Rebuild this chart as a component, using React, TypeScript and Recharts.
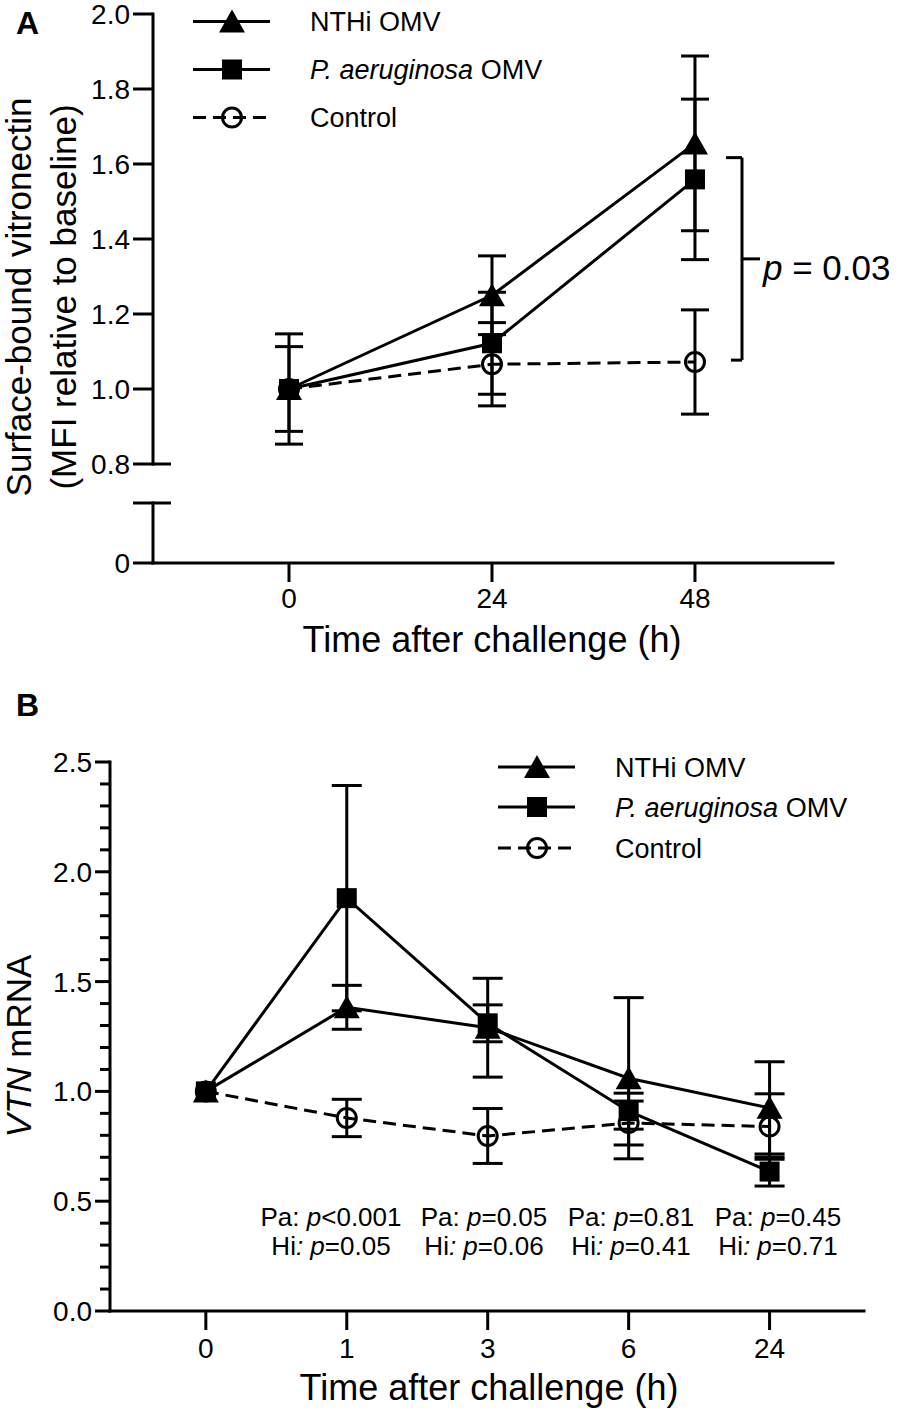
import React from 'react'
import { LineChart, Line, XAxis, YAxis, ErrorBar, ReferenceLine, Legend } from 'recharts'

const FONT = '"Liberation Sans", Arial, Helvetica, sans-serif'

// Panel A: surface-bound vitronectin (MFI relative to baseline)
const hoursA = [0, 24, 48]
const nthiA = [1.0, 1.25, 1.655]
const nthiErrA = [0.113, 0.105, 0.233]
const paA = [1.0, 1.122, 1.559]
const paErrA = [0.147, 0.136, 0.214]
const ctrlA = [1.0, 1.066, 1.072]
const ctrlErrA = [0, 0.111, 0.139]
const yTicksA = [0.8, 1.0, 1.2, 1.4, 1.6, 1.8, 2.0]
const bracketA = { top: 1.617, bottom: 1.077, label: '0.03' }

// Panel B: VTN mRNA
const timeLabelsB = ['0', '1', '3', '6', '24']
const nthiB = [1.0, 1.383, 1.29, 1.06, 0.925]
const nthiErrB = [0, 0.1, 0.225, 0.367, 0.21]
const paB = [1.0, 1.88, 1.31, 0.91, 0.635]
const paErrB = [0, 0.513, 0.084, 0.082, 0.066]
const ctrlB = [1.0, 0.879, 0.797, 0.856, 0.84]
const ctrlErrB = [0, 0.085, 0.125, 0.1, 0.149]
const pPa = ['<0.001', '=0.05', '=0.81', '=0.45']
const pHi = ['=0.05', '=0.06', '=0.41', '=0.71']
const pLabelX = [331, 484, 631, 778]

const SERIES = [
  { key: 'nthi', name: 'NTHi OMV', marker: 'triangle', dash: undefined as string | undefined },
  { key: 'pa', name: 'P. aeruginosa OMV', marker: 'square', dash: undefined as string | undefined },
  { key: 'ctrl', name: 'Control', marker: 'circle', dash: '13 7' },
]

const dataA = hoursA.map((h, i) => ({
  h,
  nthi: nthiA[i],
  nthiErr: nthiErrA[i],
  pa: paA[i],
  paErr: paErrA[i],
  ctrl: ctrlA[i],
  ctrlErr: ctrlErrA[i],
}))

const dataB = timeLabelsB.map((label, i) => ({
  idx: i,
  label,
  nthi: nthiB[i],
  nthiErr: nthiErrB[i],
  pa: paB[i],
  paErr: paErrB[i],
  ctrl: ctrlB[i],
  ctrlErr: ctrlErrB[i],
}))

const AXIS_LINE = { stroke: '#000', strokeWidth: 3, strokeLinecap: 'square' as const }
const TICK_LINE = { stroke: '#000', strokeWidth: 3 }

function Marker({ kind, cx, cy }: { kind: string; cx?: number; cy?: number }) {
  if (cx == null || cy == null) return null
  if (kind === 'triangle') {
    return <path d={`M${cx},${cy - 12} L${cx + 13},${cy + 11} L${cx - 13},${cy + 11} Z`} fill="#000" />
  }
  if (kind === 'square') {
    return <rect x={cx - 10} y={cy - 10} width={20} height={20} fill="#000" />
  }
  return <circle cx={cx} cy={cy} r={9.5} fill="none" stroke="#000" strokeWidth={3} />
}

function renderSeries(capHalf: number) {
  return SERIES.map((s) => (
    <Line
      key={s.key}
      type="linear"
      dataKey={s.key}
      name={s.name}
      stroke="#000"
      strokeWidth={3}
      strokeDasharray={s.dash}
      isAnimationActive={false}
      activeDot={false}
      dot={(p: any) => <Marker key={`${s.key}-${p.index}`} kind={s.marker} cx={p.cx} cy={p.cy} />}
    >
      <ErrorBar dataKey={`${s.key}Err`} width={capHalf} stroke="#000" strokeWidth={3} direction="y" isAnimationActive={false} />
    </Line>
  ))
}

function SeriesName({ name }: { name: string }) {
  if (name.startsWith('P. aeruginosa')) {
    return (
      <>
        <tspan fontStyle="italic">P. aeruginosa</tspan>
        {name.slice('P. aeruginosa'.length)}
      </>
    )
  }
  return <>{name}</>
}

function LegendBox({ rows, x1, x2, mx, tx, w, h }: { rows: number[]; x1: number; x2: number; mx: number; tx: number; w: number; h: number }) {
  return (
    <svg width={w} height={h} style={{ display: 'block', overflow: 'visible', fontFamily: FONT }}>
      {SERIES.map((s, i) => (
        <g key={s.key}>
          <line x1={x1} x2={x2} y1={rows[i]} y2={rows[i]} stroke="#000" strokeWidth={3} strokeDasharray={s.dash} />
          <Marker kind={s.marker} cx={mx} cy={rows[i]} />
          <text x={tx} y={rows[i] + 9.5} fontSize={27} fill="#000">
            <SeriesName name={s.name} />
          </text>
        </g>
      ))}
    </svg>
  )
}

function YTickA(props: any) {
  const { x, y, payload } = props
  const v = payload.value
  const axisX = x + 20 + 3
  return (
    <g>
      <text x={x} y={y} dy="0.355em" textAnchor="end" fontSize={28} fill="#000">
        {v.toFixed(1)}
      </text>
      {v === yTicksA[0] && <line x1={axisX} x2={axisX + 18} y1={y} y2={y} stroke="#000" strokeWidth={3} />}
    </g>
  )
}

function YTickBreak(props: any) {
  const { x, y, payload } = props
  const axisX = x + 20 + 3
  if (payload.value === 0) {
    return (
      <text x={x} y={y} dy="0.355em" textAnchor="end" fontSize={28} fill="#000">
        0
      </text>
    )
  }
  return <line x1={axisX} x2={axisX + 18} y1={y} y2={y} stroke="#000" strokeWidth={3} />
}

const yTicksB = Array.from({ length: 26 }, (_, i) => Math.round(i) / 10)

function YTickB(props: any) {
  const { x, y, payload } = props
  const v = payload.value
  const axisX = x + 15 + 3
  const major = Math.round(v * 10) % 5 === 0
  return (
    <g>
      <line x1={axisX - (major ? 15 : 10)} x2={axisX} y1={y} y2={y} stroke="#000" strokeWidth={3} />
      {major && (
        <text x={x} y={y} dy="0.355em" textAnchor="end" fontSize={28} fill="#000">
          {v.toFixed(1)}
        </text>
      )}
    </g>
  )
}

function XTick(props: any) {
  const { x, y, payload, labels } = props
  return (
    <text x={x} y={y} dy="0.71em" textAnchor="middle" fontSize={28} fill="#000">
      {labels ? labels[payload.value] : payload.value}
    </text>
  )
}

const DOMAIN_A: [number, number] = [-16.08, 64.32]

export default function App() {
  const last = hoursA[hoursA.length - 1]
  return (
    <div style={{ position: 'absolute', left: 0, top: 0, width: 899, height: 1412, background: '#fff', fontFamily: FONT }}>
      {/* Panel A, upper segment of the broken y axis */}
      <div style={{ position: 'absolute', left: 0, top: 0 }}>
        <LineChart width={899} height={480} data={dataA} margin={{ top: 14, right: 66, bottom: 16, left: 0 }}>
          <XAxis type="number" dataKey="h" domain={DOMAIN_A} allowDataOverflow hide />
          <YAxis
            type="number"
            domain={[0.8, 2.0]}
            ticks={yTicksA}
            interval={0}
            width={153}
            allowDataOverflow
            stroke="#000"
            axisLine={AXIS_LINE}
            tickLine={TICK_LINE}
            tickSize={20}
            tickMargin={3}
            tick={YTickA}
          />
          {renderSeries(14)}
          <ReferenceLine segment={[{ x: last + 3.67, y: bracketA.top }, { x: last + 5.56, y: bracketA.top }]} stroke="#000" strokeWidth={3} ifOverflow="visible" />
          <ReferenceLine segment={[{ x: last + 5.56, y: bracketA.top }, { x: last + 5.56, y: bracketA.bottom }]} stroke="#000" strokeWidth={3} ifOverflow="visible" />
          <ReferenceLine segment={[{ x: last + 4.25, y: bracketA.bottom }, { x: last + 5.56, y: bracketA.bottom }]} stroke="#000" strokeWidth={3} ifOverflow="visible" />
          <ReferenceLine
            segment={[{ x: last + 5.56, y: (bracketA.top + bracketA.bottom) / 2 }, { x: last + 7.69, y: (bracketA.top + bracketA.bottom) / 2 }]}
            stroke="#000"
            strokeWidth={3}
            ifOverflow="visible"
          />
          <Legend
            layout="vertical"
            align="center"
            verticalAlign="middle"
            wrapperStyle={{ left: 0, top: 0, width: 600, height: 140 }}
            content={() => <LegendBox rows={[21.5, 69.5, 117.5]} x1={193} x2={270} mx={232} tx={310} w={600} h={140} />}
          />
        </LineChart>
      </div>

      {/* Panel A, lower segment and x axis */}
      <div style={{ position: 'absolute', left: 0, top: 490 }}>
        <LineChart width={899} height={180} data={dataA} margin={{ top: 13, right: 66, bottom: 47, left: 0 }}>
          <XAxis
            type="number"
            dataKey="h"
            domain={DOMAIN_A}
            ticks={hoursA}
            interval={0}
            allowDataOverflow
            height={60}
            stroke="#000"
            axisLine={AXIS_LINE}
            tickLine={TICK_LINE}
            tickSize={19}
            tickMargin={6}
            tick={XTick}
          />
          <YAxis
            type="number"
            domain={[0, 1]}
            ticks={[0, 1]}
            interval={0}
            width={153}
            allowDataOverflow
            stroke="#000"
            axisLine={AXIS_LINE}
            tickLine={TICK_LINE}
            tickSize={20}
            tickMargin={3}
            tick={YTickBreak}
          />
          <Line dataKey="none" stroke="none" dot={false} isAnimationActive={false} />
        </LineChart>
      </div>

      {/* Panel B */}
      <div style={{ position: 'absolute', left: 0, top: 700 }}>
        <LineChart width={899} height={712} data={dataB} margin={{ top: 62, right: 35, bottom: 41, left: 0 }}>
          <XAxis
            type="number"
            dataKey="idx"
            domain={[-0.68, 4.67]}
            ticks={timeLabelsB.map((_, i) => i)}
            interval={0}
            allowDataOverflow
            height={60}
            stroke="#000"
            axisLine={AXIS_LINE}
            tickLine={TICK_LINE}
            tickSize={19}
            tickMargin={8}
            tick={(p: any) => <XTick {...p} labels={timeLabelsB} />}
          />
          <YAxis
            type="number"
            domain={[0, 2.5]}
            ticks={yTicksB}
            interval={0}
            width={110}
            allowDataOverflow
            stroke="#000"
            axisLine={AXIS_LINE}
            tickLine={false}
            tickSize={15}
            tickMargin={3}
            tick={YTickB}
          />
          {renderSeries(15)}
          <Legend
            layout="vertical"
            align="center"
            verticalAlign="middle"
            wrapperStyle={{ left: 0, top: 0, width: 899, height: 180 }}
            content={() => <LegendBox rows={[67, 107, 148]} x1={498} x2={575} mx={537} tx={615} w={899} h={180} />}
          />
        </LineChart>
      </div>

      {/* Free text: panel letters, axis titles, statistics */}
      <svg width={899} height={1412} style={{ position: 'absolute', left: 0, top: 0, pointerEvents: 'none', fontFamily: FONT }}>
        <text x={16} y={34} fontSize={32} fontWeight="bold" fill="#000">A</text>
        <text x={16} y={716} fontSize={32} fontWeight="bold" fill="#000">B</text>

        <text transform="translate(31,297) rotate(-90)" textAnchor="middle" fontSize={35} fill="#000">
          Surface-bound vitronectin
        </text>
        <text transform="translate(76,297) rotate(-90)" textAnchor="middle" fontSize={35} fill="#000">
          (MFI relative to baseline)
        </text>
        <text x={492} y={652} textAnchor="middle" fontSize={36} fill="#000">
          Time after challenge (h)
        </text>
        <text x={763} y={280} fontSize={35} fill="#000">
          <tspan fontStyle="italic">p</tspan> = {bracketA.label}
        </text>

        <text transform="translate(31,1046) rotate(-90)" textAnchor="middle" fontSize={35} fill="#000">
          <tspan fontStyle="italic">VTN</tspan> mRNA
        </text>
        <text x={489} y={1400} textAnchor="middle" fontSize={36} fill="#000">
          Time after challenge (h)
        </text>
        {pPa.map((v, i) => (
          <text key={`pa${i}`} x={pLabelX[i]} y={1226} textAnchor="middle" fontSize={26} fill="#000">
            Pa: <tspan fontStyle="italic">p</tspan>
            {v}
          </text>
        ))}
        {pHi.map((v, i) => (
          <text key={`hi${i}`} x={pLabelX[i]} y={1255} textAnchor="middle" fontSize={26} fill="#000">
            Hi<tspan fontStyle="italic">: p</tspan>
            {v}
          </text>
        ))}
      </svg>
    </div>
  )
}
